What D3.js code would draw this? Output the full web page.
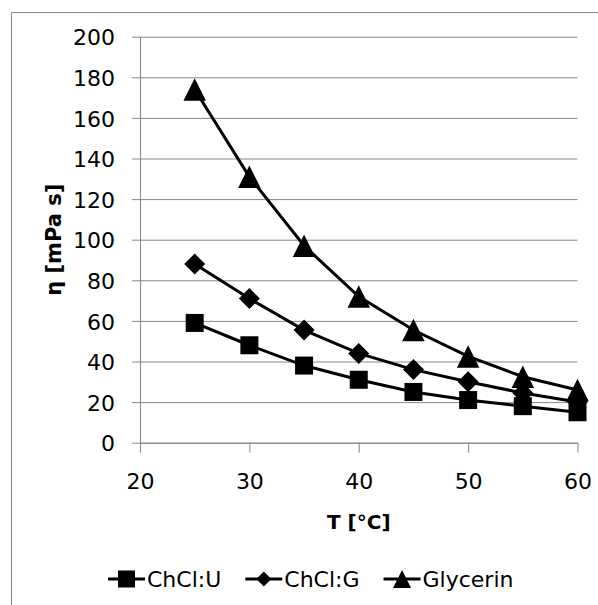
<!DOCTYPE html>
<html>
<head>
<meta charset="utf-8">
<script src="https://cdn.jsdelivr.net/npm/d3@7"></script>
<style>
  body { margin: 0; background: #fff; }
  svg { display: block; font-family: "DejaVu Sans", sans-serif; }
</style>
</head>
<body>
<svg id="chart" width="598" height="605"></svg>
<script>
const temps = [25, 30, 35, 40, 45, 50, 55, 60];
const chclU = [59, 48, 38, 31, 25, 21, 18, 15];
const chclG = [88, 71, 55.5, 44, 36, 30, 24.5, 20];
const glycerin = [174, 131, 97, 72, 55.5, 42.5, 32.5, 26];
const xTicks = [20, 30, 40, 50, 60];
const yTicks = [0, 20, 40, 60, 80, 100, 120, 140, 160, 180, 200];

const series = [
  { name: 'ChCl:U', values: chclU, marker: 'square' },
  { name: 'ChCl:G', values: chclG, marker: 'diamond' },
  { name: 'Glycerin', values: glycerin, marker: 'triangle' }
];

// marker shapes centred on 0,0
function markerPath(type, s) {
  const h = s / 2;
  if (type === 'square') return `M${-h},${-h}H${h}V${h}H${-h}Z`;
  if (type === 'diamond') return `M0,${-h}L${h},0L0,${h}L${-h},0Z`;
  return `M0,${-h}L${h},${h}L${-h},${h}Z`;
}
const markerSize = { square: 18, diamond: 21, triangle: 22.5 };
const legendSize = { square: 17, diamond: 15, triangle: 18 };

const svg = d3.select('#chart');
const margin = { top: 36.7, left: 140 };
const width = 437.5;
const height = 406;
const grey = '#878787';

// outer frame (cut off on right/bottom)
svg.append('path')
  .attr('d', 'M11.5,605V12.5H598')
  .attr('fill', 'none')
  .attr('stroke', grey)
  .attr('stroke-width', 1);

const g = svg.append('g')
  .attr('transform', `translate(${margin.left},${margin.top})`);

const x = d3.scaleLinear().domain([20, 60]).range([0, width]);
const y = d3.scaleLinear().domain([0, 200]).range([height, 0]);

const yAxis = g.append('g')
  .call(d3.axisLeft(y).tickValues(yTicks).tickSize(-width).tickSizeOuter(0).tickPadding(25));
yAxis.selectAll('.tick line').attr('x1', -8).attr('stroke', grey);
yAxis.select('.domain').attr('stroke', grey);
yAxis.selectAll('.tick text')
  .attr('font-size', 22)
  .attr('font-family', '"DejaVu Sans", sans-serif')
  .attr('fill', '#000')
  .attr('dy', '0.37em');

const xAxis = g.append('g')
  .attr('transform', `translate(0,${height})`)
  .call(d3.axisBottom(x).tickValues(xTicks).tickSize(10).tickSizeOuter(0));
xAxis.selectAll('.tick line').attr('stroke', grey);
xAxis.select('.domain').attr('stroke', grey);
xAxis.selectAll('.tick text')
  .attr('font-size', 22)
  .attr('font-family', '"DejaVu Sans", sans-serif')
  .attr('fill', '#000')
  .attr('y', 46)
  .attr('dy', 0);

const line = d3.line()
  .x((d, i) => x(temps[i]))
  .y(d => y(d));

series.forEach(s => {
  g.append('path')
    .datum(s.values)
    .attr('d', line)
    .attr('fill', 'none')
    .attr('stroke', '#000')
    .attr('stroke-width', 3);

  g.selectAll(null)
    .data(s.values)
    .join('path')
    .attr('transform', (d, i) => `translate(${x(temps[i])},${y(d)})`)
    .attr('d', markerPath(s.marker, markerSize[s.marker]))
    .attr('fill', '#000');
});

// axis titles
svg.append('text')
  .attr('x', margin.left + width / 2)
  .attr('y', 529)
  .attr('text-anchor', 'middle')
  .attr('font-size', 20)
  .attr('font-weight', 'bold')
  .text('T [°C]');

svg.append('text')
  .attr('transform', `translate(61,${margin.top + height / 2}) rotate(-90)`)
  .attr('text-anchor', 'middle')
  .attr('font-size', 21)
  .attr('font-weight', 'bold')
  .text('η [mPa s]');

// legend
const legend = svg.append('g').attr('transform', 'translate(108,579)');
let lx = 0;
series.forEach(s => {
  const item = legend.append('g').attr('transform', `translate(${lx},0)`);
  item.append('line')
    .attr('x1', 0).attr('x2', 37)
    .attr('stroke', '#000')
    .attr('stroke-width', 3);
  item.append('path')
    .attr('transform', 'translate(18.5,0)')
    .attr('d', markerPath(s.marker, legendSize[s.marker]))
    .attr('fill', '#000');
  const t = item.append('text')
    .attr('x', 39)
    .attr('dy', '0.36em')
    .attr('font-size', 22)
    .text(s.name);
  lx += 39 + t.node().getComputedTextLength() + 24;
});
</script>
</body>
</html>
